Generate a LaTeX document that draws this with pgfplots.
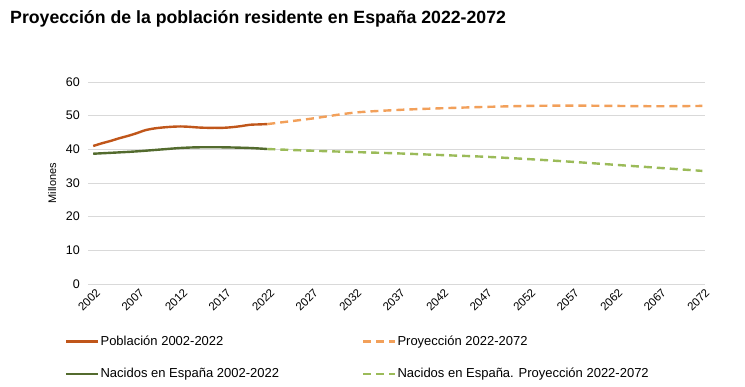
\documentclass[border=0pt]{standalone}
\usepackage{pgfplots}
\pgfplotsset{compat=1.18}
\usepackage{fontspec}
\setmainfont{Liberation Sans}
\definecolor{pob}{HTML}{C0561A}
\definecolor{pobp}{HTML}{F2A05A}
\definecolor{nac}{HTML}{536B2E}
\definecolor{nacp}{HTML}{9BBB59}
\definecolor{gridc}{HTML}{D9D9D9}
\begin{document}
\begin{tikzpicture}
\path[use as bounding box] (0pt,0pt) rectangle (745pt,-386pt);
\node[anchor=west,inner sep=0pt,font=\bfseries\fontsize{17.7}{20}\selectfont] at (10pt,-19pt) {Proyección de la población residente en España 2022-2072};
\begin{axis}[
  at={(88pt,-284pt)}, anchor=south west, scale only axis,
  width=617pt, height=202pt,
  xmin=2001.4, xmax=2072.3, ymin=0, ymax=60,
  ytick={0,10,...,60}, xtick={2002,2007,...,2072},
  ymajorgrids, grid style={draw=gridc, line width=0.8pt},
  axis line style={draw=none}, major tick length=0pt,
  yticklabel style={font=\fontsize{12.5}{14}\selectfont, inner sep=1pt, xshift=-7pt},
  /pgf/number format/assume math mode=true,
  /pgf/number format/1000 sep={},
  xticklabel style={font=\fontsize{11.5}{13}\selectfont, rotate=45, anchor=north east, inner sep=1pt, xshift=0pt, yshift=-3pt},
  ylabel={Millones},
  ylabel style={font=\fontsize{11}{13}\selectfont, at={(axis description cs:-0.058,0.5)}, anchor=center, rotate=0},
  legend columns=2,
  legend cell align=left,
  legend style={at={(axis description cs:-0.0373,-0.252)}, anchor=north west, draw=none, fill=none, inner sep=0pt,
    font=\fontsize{13}{15}\selectfont, row sep=19pt,
    nodes={inner sep=1pt},
    /tikz/every even column/.append style={column sep=82pt}},
  legend image code/.code={\draw[#1] (0pt,0pt) -- (32pt,0pt);},
]
\addplot[pob, line width=2.4pt, smooth] coordinates {
(2002,41.0) (2003,41.8) (2004,42.5) (2005,43.3) (2006,44.0) (2007,44.8) (2008,45.7) (2009,46.2) (2010,46.5) (2011,46.7) (2012,46.8) (2013,46.7) (2014,46.5) (2015,46.4) (2016,46.4) (2017,46.4) (2018,46.6) (2019,46.9) (2020,47.3) (2021,47.4) (2022,47.5)};
\addlegendentry{Población 2002-2022}
\addplot[pobp, line width=2.4pt, dash pattern=on 8pt off 5pt, smooth] coordinates {
(2022,47.5) (2027,49.1) (2032,50.9) (2037,51.7) (2042,52.2) (2047,52.6) (2052,52.9) (2057,53.0) (2062,52.9) (2067,52.8) (2072,52.9)};
\addlegendentry{Proyección 2022-2072}
\addplot[nac, line width=2.4pt, smooth] coordinates {
(2002,38.7) (2005,39.1) (2007,39.4) (2010,40.0) (2012,40.4) (2014,40.6) (2017,40.6) (2020,40.4) (2022,40.1)};
\addlegendentry{Nacidos en España 2002-2022}
\addplot[nacp, line width=2.4pt, dash pattern=on 8pt off 5pt, smooth] coordinates {
(2022,40.1) (2027,39.6) (2032,39.2) (2037,38.8) (2042,38.3) (2047,37.8) (2052,37.1) (2057,36.3) (2062,35.4) (2067,34.5) (2072,33.6)};
\addlegendentry{Nacidos en España. Proyección 2022-2072}
\end{axis}
\end{tikzpicture}
\end{document}
